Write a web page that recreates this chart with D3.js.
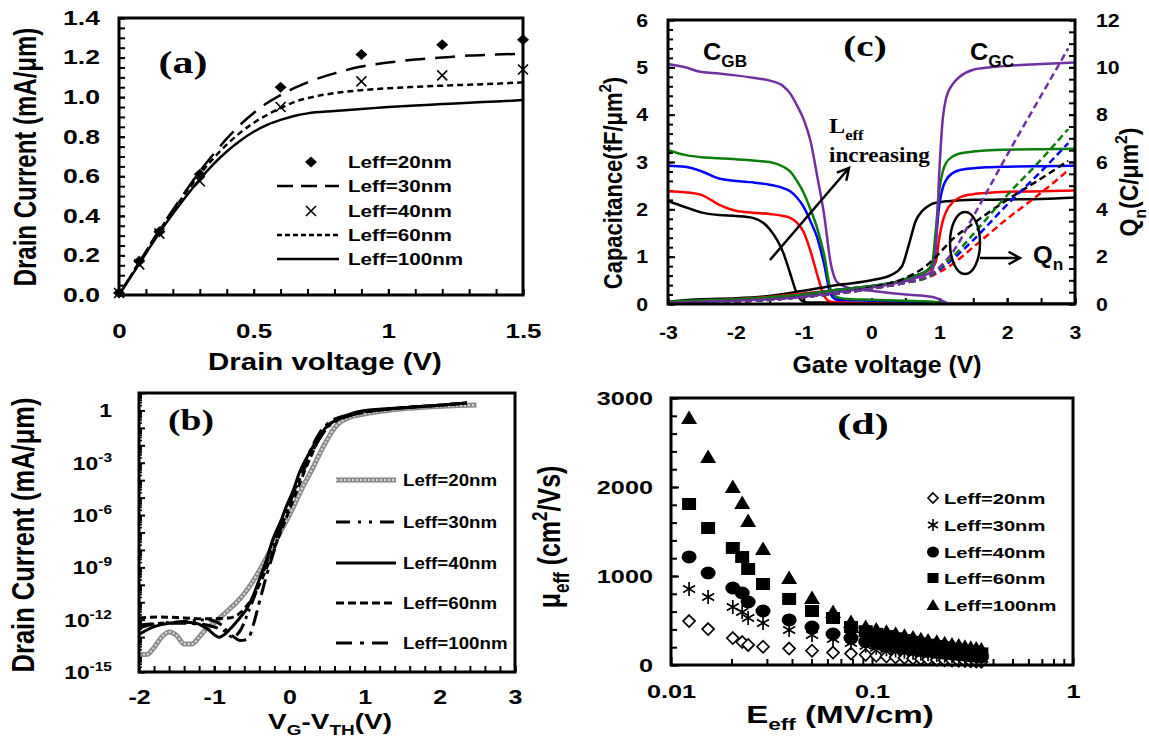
<!DOCTYPE html>
<html><head><meta charset="utf-8">
<script src="https://cdn.jsdelivr.net/npm/d3@7"></script>
<style>body{margin:0;background:#fff}svg{display:block}</style>
</head><body>
<script>
// ================= DATA =================
// Panel (a): output characteristics
const aVdPts = [0, 0.075, 0.15, 0.3, 0.6, 0.9, 1.2, 1.5];
const aId20 = [0.01, 0.17, 0.32, 0.61, 1.05, 1.215, 1.265, 1.29];
const aId40 = [0.01, 0.155, 0.31, 0.575, 0.95, 1.08, 1.11, 1.14];
const aVdLine = [0, 0.05, 0.1, 0.15, 0.2, 0.25, 0.3, 0.35, 0.4, 0.45, 0.5, 0.55, 0.6, 0.65, 0.7, 0.8, 0.9, 1.0, 1.1, 1.2, 1.3, 1.4, 1.5];
const aId30 = [0, 0.11, 0.22, 0.33, 0.43, 0.53, 0.625, 0.71, 0.79, 0.86, 0.92, 0.97, 1.01, 1.045, 1.075, 1.12, 1.155, 1.175, 1.19, 1.2, 1.21, 1.215, 1.22];
const aId60 = [0, 0.11, 0.22, 0.325, 0.425, 0.52, 0.61, 0.69, 0.76, 0.82, 0.87, 0.91, 0.945, 0.975, 0.995, 1.02, 1.035, 1.045, 1.052, 1.058, 1.063, 1.068, 1.075];
const aId100 = [0, 0.105, 0.21, 0.315, 0.41, 0.5, 0.585, 0.66, 0.725, 0.78, 0.825, 0.86, 0.885, 0.905, 0.918, 0.93, 0.94, 0.95, 0.958, 0.965, 0.972, 0.978, 0.985];
const aXTicks = [0, 0.5, 1, 1.5];
const aYTicks = [0, 0.2, 0.4, 0.6, 0.8, 1.0, 1.2, 1.4];
const legendLabels = ["Leff=20nm", "Leff=30nm", "Leff=40nm", "Leff=60nm", "Leff=100nm"];

// Panel (b): transfer characteristics (log10 of drain current, mA/um)
const bV20 = [-2,-1.9,-1.8,-1.7,-1.6,-1.5,-1.4,-1.3,-1.2,-1.1,-1.0,-0.9,-0.8,-0.7,-0.6,-0.5,-0.4,-0.3,-0.2,-0.1,0,0.1,0.2,0.3,0.4,0.5,0.6,0.7,0.8,1.0,1.3,1.7,2.1,2.49];
const bLog20 = [-14.0,-14.0,-13.6,-13.0,-12.7,-12.9,-13.4,-13.4,-13.0,-12.5,-12.2,-11.8,-11.4,-11.0,-10.5,-9.9,-9.2,-8.4,-7.6,-6.8,-6.0,-5.1,-4.2,-3.4,-2.5,-1.7,-1.0,-0.6,-0.4,-0.2,0.0,0.15,0.25,0.31];
const bV30 = [-2,-1.7,-1.4,-1.1,-0.9,-0.76,-0.65,-0.55,-0.45,-0.35,-0.25,-0.15,-0.05,0.05,0.15,0.25,0.35,0.45,0.55,0.65,0.8,1.0,1.5,2.0,2.36];
const bLog30 = [-12.3,-12.2,-12.1,-12.0,-12.3,-13.0,-12.6,-11.6,-10.5,-9.3,-8.1,-6.9,-5.8,-4.8,-3.8,-2.9,-2.0,-1.3,-0.8,-0.55,-0.3,-0.1,0.15,0.3,0.43];
const bV40 = [-2,-1.8,-1.6,-1.4,-1.24,-1.1,-0.93,-0.85,-0.76,-0.66,-0.57,-0.48,-0.4,-0.3,-0.22,-0.1,-0.04,0.05,0.13,0.22,0.31,0.4,0.49,0.56,0.63,0.75,0.84,1.0,1.5,2.0,2.36];
const bLog40 = [-12.85,-12.4,-12.2,-12.15,-12.2,-12.5,-13.0,-12.8,-12.4,-11.9,-11.4,-10.6,-9.7,-8.5,-7.4,-6.2,-5.5,-4.6,-3.6,-2.8,-2.1,-1.5,-0.95,-0.7,-0.55,-0.3,-0.15,0.0,0.15,0.3,0.43];
const bV60 = [-2,-1.7,-1.4,-1.1,-0.8,-0.65,-0.5,-0.4,-0.3,-0.2,-0.1,0,0.1,0.2,0.3,0.4,0.5,0.6,0.8,1.0,1.5,2.0,2.36];
const bLog60 = [-11.9,-11.85,-11.9,-11.95,-11.9,-11.6,-10.8,-10.0,-9.0,-7.9,-6.8,-5.7,-4.6,-3.5,-2.5,-1.6,-0.95,-0.6,-0.3,-0.1,0.15,0.3,0.43];
const bV100 = [-2,-1.7,-1.4,-1.1,-0.8,-0.65,-0.55,-0.48,-0.4,-0.3,-0.2,-0.1,0,0.1,0.2,0.3,0.4,0.5,0.6,0.8,1.0,1.5,2.0,2.36];
const bLog100 = [-12.5,-12.2,-12.2,-12.3,-12.8,-13.2,-13.1,-12.3,-11.0,-9.4,-8.0,-6.6,-5.4,-4.2,-3.1,-2.1,-1.3,-0.8,-0.5,-0.25,-0.08,0.15,0.3,0.43];
const bXTicks = [-2, -1, 0, 1, 2, 3];
const bYExp = [0, -3, -6, -9, -12, -15];

// Panel (c): capacitances (fF/um^2) and Qn (right axis)
const cColors = ["#000000", "#ff0000", "#0000ff", "#0b7d0b", "#7030a0"];
const cgbV = [-3,-2.75,-2.5,-2.25,-2,-1.75,-1.5,-1.3,-1.2,-1.1,-1.0,-0.9,-0.8,-0.7,-0.6,-0.5,-0.3,0,0.5,0.9,1.0,1.1,1.2,1.5,2,3];
const cgbBlack = [2.18,2.05,1.93,1.88,1.86,1.82,1.58,1.08,0.65,0.22,0.05,0.03,0.03,0.03,0.03,0.03,0.02,0.02,0.02,0.01,0.01,0,0,0,0,0];
const cgbRed = [2.38,2.36,2.3,2.1,1.97,1.93,1.9,1.86,1.82,1.72,1.52,1.12,0.62,0.18,0.05,0.04,0.03,0.02,0.02,0.01,0.005,0,0,0,0,0];
const cgbBlue = [2.92,2.9,2.8,2.65,2.6,2.57,2.52,2.45,2.38,2.25,2.05,1.75,1.4,0.85,0.2,0.09,0.08,0.07,0.05,0.03,0.02,0.005,0,0,0,0];
const cgbGreen = [3.25,3.15,3.1,3.08,3.06,3.03,3.0,2.9,2.8,2.6,2.35,2.0,1.6,1.05,0.3,0.14,0.1,0.09,0.07,0.05,0.03,0.01,0,0,0,0];
const cgbPurple = [5.07,5.0,4.9,4.87,4.83,4.78,4.72,4.6,4.45,4.2,3.9,3.45,2.7,1.9,0.85,0.45,0.33,0.28,0.2,0.15,0.1,0.03,0,0,0,0];
const cgcV = [-3,-2.5,-2,-1.5,-1,-0.5,0,0.3,0.45,0.55,0.65,0.75,0.85,0.9,0.95,1.0,1.05,1.1,1.2,1.3,1.5,1.75,2,2.5,3];
const cgcBlack = [0.05,0.1,0.12,0.17,0.28,0.4,0.5,0.62,0.8,1.25,1.75,1.97,2.08,2.12,2.14,2.15,2.16,2.17,2.18,2.19,2.2,2.2,2.21,2.22,2.25];
const cgcRed = [0.02,0.06,0.1,0.15,0.22,0.3,0.38,0.45,0.5,0.55,0.6,0.65,0.72,0.78,0.9,1.4,1.75,1.95,2.15,2.25,2.32,2.35,2.37,2.38,2.4];
const cgcBlue = [0.02,0.05,0.08,0.13,0.2,0.3,0.38,0.45,0.5,0.55,0.6,0.65,0.75,0.85,1.4,2.1,2.45,2.62,2.77,2.83,2.87,2.89,2.9,2.91,2.92];
const cgcGreen = [0.05,0.08,0.1,0.14,0.2,0.3,0.38,0.45,0.5,0.55,0.6,0.65,0.75,0.9,1.6,2.4,2.8,2.98,3.12,3.18,3.22,3.25,3.26,3.27,3.28];
const cgcPurple = [0.02,0.05,0.07,0.1,0.15,0.25,0.35,0.42,0.47,0.5,0.55,0.6,0.65,0.72,1.2,2.8,3.9,4.35,4.65,4.8,4.95,5.0,5.03,5.07,5.1];
const qnV = [-3,-2.5,-2,-1.5,-1,-0.5,0,0.5,0.8,0.9,1.0,1.2,1.5,2.0,2.5,2.9];
const qnBlack = [0.02,0.05,0.1,0.18,0.3,0.45,0.7,1.1,1.6,1.85,2.15,2.75,3.4,4.4,5.3,6.05];
const qnRed = [0.02,0.05,0.1,0.18,0.3,0.45,0.65,0.9,1.1,1.2,1.35,1.7,2.4,3.6,4.7,5.65];
const qnBlue = [0.02,0.05,0.1,0.18,0.3,0.45,0.65,0.9,1.1,1.25,1.45,1.9,2.7,4.2,5.6,6.8];
const qnGreen = [0.02,0.05,0.1,0.18,0.3,0.45,0.65,0.9,1.1,1.25,1.5,2.0,2.95,4.6,6.1,7.4];
const qnPurple = [0.02,0.05,0.1,0.18,0.3,0.45,0.65,0.9,1.15,1.3,1.55,2.2,3.7,6.3,8.8,10.8];
const cXTicks = [-3,-2,-1,0,1,2,3];
const cYTicks = [0,1,2,3,4,5,6];
const cY2Ticks = [0,2,4,6,8,10,12];

// Panel (d): effective mobility vs effective field
const dE = [0.0123,0.0153,0.0203,0.0226,0.0242,0.0287,0.0387,0.0503,0.064,0.0786,0.093,0.105,0.118,0.131,0.145,0.16,0.175,0.19,0.21,0.23,0.25,0.27,0.29,0.31,0.33,0.35];
const dMu20 = [494,404,303,258,225,205,185,160,140,128,115,104,95,87,80,74,68,63,58,54,50,47,44,41,38,36];
const dMu30 = [854,764,652,596,528,472,393,337,292,247,215,195,178,163,150,139,129,120,112,104,97,91,85,79,74,69];
const dMu40 = [1214,1034,865,809,708,607,506,427,348,303,262,240,220,203,188,175,163,152,142,133,125,117,110,103,97,91];
const dMu60 = [1809,1539,1315,1214,1079,910,742,607,528,427,380,350,325,300,280,260,243,228,212,198,185,172,160,150,140,130];
const dMu100 = [2775,2337,2000,1820,1618,1303,977,753,596,483,427,400,375,350,330,310,290,275,260,245,230,218,205,195,185,175];
const dXTicks = [0.01, 0.1, 1];
const dYTicks = [0, 1000, 2000, 3000];

// ================= DRAWING =================
const SANS = "'Liberation Sans', Arial, Helvetica, sans-serif";
const SERIF = "'Liberation Serif', 'Times New Roman', serif";
const svg = d3.select("body").append("svg").attr("width", 1149).attr("height", 738);
svg.append("rect").attr("width", 1149).attr("height", 738).attr("fill", "#fff");

function txt(x, y, parts, o) {
  const size = o.size;
  const t = svg.append("text")
    .attr("font-family", o.serif ? SERIF : SANS).attr("font-weight", "bold")
    .attr("font-size", size).attr("text-anchor", o.anchor || "start").attr("fill", "#000");
  const sx = o.sx || 1;
  t.attr("transform", o.rot ? `translate(${x},${y}) rotate(-90) scale(1,${sx})` : `translate(${x},${y}) scale(${sx},1)`);
  let shift = 0;
  const list = typeof parts === "string" ? [[parts]] : parts;
  for (const [s, kind] of list) {
    const target = kind === "sub" ? size * 0.3 : kind === "sup" ? -size * 0.42 : 0;
    t.append("tspan").text(s).attr("dy", target - shift).attr("font-size", kind ? size * 0.68 : size);
    shift = target;
  }
  return t;
}

function frame(x0, x1, y0, y1) {
  svg.append("rect").attr("x", x0).attr("y", y0).attr("width", x1 - x0).attr("height", y1 - y0)
    .attr("fill", "none").attr("stroke", "#000").attr("stroke-width", 3);
}

function drawAxis(orient, scale, pos, values, o) {
  const mk = orient === "bottom" ? d3.axisBottom : orient === "left" ? d3.axisLeft : d3.axisRight;
  const gen = mk(scale).tickValues(values).tickSizeInner(-(o.len || 6)).tickSizeOuter(0).tickPadding(o.pad || 8);
  gen.tickFormat(o.fmt || (() => ""));
  const g = svg.append("g").attr("transform", orient === "bottom" ? `translate(0,${pos})` : `translate(${pos},0)`).call(gen);
  g.select(".domain").remove();
  g.selectAll("line").attr("stroke", "#000").attr("stroke-width", o.tw || 2);
  g.selectAll("text").attr("font-family", SANS).attr("font-weight", "bold").attr("font-size", o.font || 19).attr("fill", "#000")
    .each(function () {
      const t = d3.select(this); const x = +t.attr("x") || 0;
      t.attr("x", 0).attr("transform", `translate(${x},0) scale(${o.sx || 1},1)`);
    });
  return g;
}

function range(a, b, s) { const r = []; for (let v = a; v <= b + 1e-9; v += s) r.push(+v.toFixed(6)); return r; }

// ---------- Panel (a) ----------
const aX = d3.scaleLinear([0, 1.5], [119, 523]);
const aY = d3.scaleLinear([0, 1.4], [295, 18]);
drawAxis("bottom", aX, 295, range(0, 1.5, 0.1), { len: 6 });
drawAxis("left", aY, 119, range(0, 1.4, 0.05), { len: 6 });
drawAxis("bottom", aX, 295, aXTicks, { len: 6, pad: 29, fmt: d => String(d), font: 20, sx: 1.3 });
drawAxis("left", aY, 119, aYTicks, { len: 6, pad: 19, fmt: d3.format(".1f"), font: 20, sx: 1.33 });

const aLine = ys => d3.line().x((d, i) => aX(aVdLine[i])).y(d => aY(d)).curve(d3.curveMonotoneX)(ys);
svg.append("path").attr("d", aLine(aId100)).attr("fill", "none").attr("stroke", "#000").attr("stroke-width", 2.5);
svg.append("path").attr("d", aLine(aId60)).attr("fill", "none").attr("stroke", "#000").attr("stroke-width", 2.5).attr("stroke-dasharray", "6,4");
svg.append("path").attr("d", aLine(aId30)).attr("fill", "none").attr("stroke", "#000").attr("stroke-width", 2.5).attr("stroke-dasharray", "20,10");
const DIAM = "M0,-5.5L6,0L0,5.5L-6,0Z";
const XMARK = "M-5,-5L5,5M-5,5L5,-5";
svg.selectAll(".a40").data(aId40).enter().append("path").attr("d", XMARK)
  .attr("transform", (d, i) => `translate(${aX(aVdPts[i])},${aY(d)})`).attr("stroke", "#000").attr("stroke-width", 1.6).attr("fill", "none");
svg.selectAll(".a20").data(aId20).enter().append("path").attr("d", DIAM)
  .attr("transform", (d, i) => `translate(${aX(aVdPts[i])},${aY(d)})`).attr("fill", "#000");
frame(119, 523, 18, 295);

// legend (a)
const aLegY = [162, 186, 211, 235, 259];
svg.append("path").attr("d", DIAM).attr("transform", `translate(311,${aLegY[0]})`).attr("fill", "#000");
svg.append("line").attr("x1", 277).attr("x2", 339).attr("y1", aLegY[1]).attr("y2", aLegY[1]).attr("stroke", "#000").attr("stroke-width", 2.5).attr("stroke-dasharray", "16,8");
svg.append("path").attr("d", XMARK).attr("transform", `translate(311,${aLegY[2]})`).attr("stroke", "#000").attr("stroke-width", 1.6);
svg.append("line").attr("x1", 277).attr("x2", 339).attr("y1", aLegY[3]).attr("y2", aLegY[3]).attr("stroke", "#000").attr("stroke-width", 2.5).attr("stroke-dasharray", "5,3");
svg.append("line").attr("x1", 277).attr("x2", 339).attr("y1", aLegY[4]).attr("y2", aLegY[4]).attr("stroke", "#000").attr("stroke-width", 2.5);
legendLabels.forEach((l, i) => txt(348, aLegY[i] + 6, l, { size: 16, sx: 1.29 }));

txt(183, 73, "(a)", { size: 31, serif: true, anchor: "middle", sx: 1.35 });
txt(325, 370, "Drain voltage (V)", { size: 23, anchor: "middle", sx: 1.28 });
txt(36, 157, "Drain Current (mA/\u03bcm)", { size: 24, anchor: "middle", rot: true, sx: 1.27 });

// ---------- Panel (b) ----------
const bX = d3.scaleLinear([-2, 3], [139, 515]);
const bY = d3.scaleLog([1e-15, 10], [672, 393]);
drawAxis("bottom", bX, 672, range(-2, 3, 0.2), { len: 6 });
drawAxis("bottom", bX, 672, bXTicks, { len: 6, pad: 18, fmt: d => String(d), font: 20, sx: 1.25 });
const bMinor = [];
for (let e = -15; e < 1; e++) for (let m = 2; m <= 9; m++) bMinor.push(m * Math.pow(10, e));
drawAxis("left", bY, 139, bMinor, { len: 3, tw: 1.5 });
drawAxis("left", bY, 139, d3.range(-15, 2).map(e => Math.pow(10, e)), { len: 6 });
bYExp.forEach(e => {
  const y = bY(Math.pow(10, e)) + 7;
  if (e === 0) txt(112, y, "1", { size: 19, anchor: "end", sx: 1.2 });
  else txt(112, y, [["10"], [String(e), "sup"]], { size: 19, anchor: "end", sx: 1.2 });
});
const bLine = (vs, ls) => d3.line().x((d, i) => bX(vs[i])).y(d => bY(Math.pow(10, d))).curve(d3.curveMonotoneX)(ls);
svg.append("path").attr("d", bLine(bV20, bLog20)).attr("fill", "none").attr("stroke", "#8a8a8a").attr("stroke-width", 5);
svg.append("path").attr("d", bLine(bV20, bLog20)).attr("fill", "none").attr("stroke", "#dcdcdc").attr("stroke-width", 2).attr("stroke-dasharray", "2,2");
const bStyles = [
  [bV30, bLog30, "14,5,3,5,3,5"],
  [bV40, bLog40, null],
  [bV60, bLog60, "7,4"],
  [bV100, bLog100, "16,6,4,6"]
];
bStyles.forEach(([v, l, dash]) => {
  const p = svg.append("path").attr("d", bLine(v, l)).attr("fill", "none").attr("stroke", "#000").attr("stroke-width", 3);
  if (dash) p.attr("stroke-dasharray", dash);
});
frame(139, 515, 393, 672);
// legend (b)
const bLegY = [480, 522, 563, 603, 643];
svg.append("line").attr("x1", 336).attr("x2", 396).attr("y1", bLegY[0]).attr("y2", bLegY[0]).attr("stroke", "#8a8a8a").attr("stroke-width", 5);
svg.append("line").attr("x1", 336).attr("x2", 396).attr("y1", bLegY[0]).attr("y2", bLegY[0]).attr("stroke", "#dcdcdc").attr("stroke-width", 2).attr("stroke-dasharray", "2,2");
["14,8,3,8,3,8", null, "8,4", "16,8,4,8"].forEach((dash, i) => {
  const l = svg.append("line").attr("x1", 336).attr("x2", 396).attr("y1", bLegY[i + 1]).attr("y2", bLegY[i + 1]).attr("stroke", "#000").attr("stroke-width", 3);
  if (dash) l.attr("stroke-dasharray", dash);
});
legendLabels.forEach((l, i) => txt(403, bLegY[i] + 6, l, { size: 16, sx: 1.17 }));
txt(191, 430, "(b)", { size: 30, serif: true, anchor: "middle", sx: 1.25 });
txt(330, 728.5, [["V"], ["G", "sub"], ["-V"], ["TH", "sub"], ["(V)"]], { size: 21.5, anchor: "middle", sx: 1.3 });
txt(34, 535, "Drain Current (mA/\u03bcm)", { size: 25.5, anchor: "middle", rot: true, sx: 1.25 });

// ---------- Panel (c) ----------
const cX = d3.scaleLinear([-3, 3], [668, 1075]);
const cY = d3.scaleLinear([0, 6], [304, 20]);
const cY2 = d3.scaleLinear([0, 12], [304, 20]);
drawAxis("bottom", cX, 304, range(-3, 3, 0.5), { len: 6 });
drawAxis("bottom", cX, 304, cXTicks, { len: 6, pad: 22, fmt: d => String(d), font: 19, sx: 1.12 });
drawAxis("left", cY, 668, range(0, 6, 0.2), { len: 5 });
drawAxis("left", cY, 668, cYTicks, { len: 7, pad: 20, fmt: d => String(d), font: 19, sx: 1.12 });
drawAxis("right", cY2, 1075, range(0, 12, 0.5), { len: 6 });
drawAxis("right", cY2, 1075, cY2Ticks, { len: 6, pad: 21, fmt: d => String(d), font: 19, sx: 1.12 });

svg.append("clipPath").attr("id", "cclip").append("rect").attr("x", 668).attr("y", 20).attr("width", 407).attr("height", 284);
const cg = svg.append("g").attr("clip-path", "url(#cclip)");
const cLine = (vs, ys, sc) => d3.line().x((d, i) => cX(vs[i])).y(d => sc(d)).curve(d3.curveMonotoneX)(ys);
const cgbAll = [cgbBlack, cgbRed, cgbBlue, cgbGreen, cgbPurple];
const cgcAll = [cgcBlack, cgcRed, cgcBlue, cgcGreen, cgcPurple];
const qnAll = [qnBlack, qnRed, qnBlue, qnGreen, qnPurple];
cgbAll.forEach((ys, i) => cg.append("path").attr("d", cLine(cgbV, ys, cY)).attr("fill", "none").attr("stroke", cColors[i]).attr("stroke-width", 2.5));
cgcAll.forEach((ys, i) => cg.append("path").attr("d", cLine(cgcV, ys, cY)).attr("fill", "none").attr("stroke", cColors[i]).attr("stroke-width", 2.5));
qnAll.forEach((ys, i) => cg.append("path").attr("d", cLine(qnV, ys, cY2)).attr("fill", "none").attr("stroke", cColors[i]).attr("stroke-width", 2.5).attr("stroke-dasharray", "7,4"));
frame(668, 1075, 20, 304);

function arrow(x1, y1, x2, y2) {
  svg.append("line").attr("x1", x1).attr("y1", y1).attr("x2", x2).attr("y2", y2).attr("stroke", "#000").attr("stroke-width", 2.5);
  const a = Math.atan2(y2 - y1, x2 - x1), L = 13;
  const p = [[x2 - L * Math.cos(a - 0.5), y2 - L * Math.sin(a - 0.5)], [x2, y2], [x2 - L * Math.cos(a + 0.5), y2 - L * Math.sin(a + 0.5)]];
  svg.append("path").attr("d", d3.line()(p)).attr("fill", "none").attr("stroke", "#000").attr("stroke-width", 2.5);
}
arrow(770, 260, 849, 168);
svg.append("ellipse").attr("cx", 965).attr("cy", 243).attr("rx", 15).attr("ry", 31).attr("fill", "none").attr("stroke", "#000").attr("stroke-width", 2.5);
arrow(980, 258, 1020, 258);
txt(703, 60, [["C"], ["GB", "sub"]], { size: 23, sx: 1.1 });
txt(970, 60, [["C"], ["GC", "sub"]], { size: 23, sx: 1.1 });
txt(865, 56, "(c)", { size: 30, serif: true, anchor: "middle", sx: 1.3 });
txt(829, 133, [["L"], ["eff", "sub"]], { size: 22, serif: true, sx: 1.1 });
txt(829, 162, "increasing", { size: 21, serif: true, sx: 1.1 });
txt(1033, 263, [["Q"], ["n", "sub"]], { size: 23, sx: 1.1 });
txt(887, 373, "Gate voltage (V)", { size: 23, anchor: "middle", sx: 1.08 });
txt(622, 183, [["Capacitance(fF/\u03bcm"], ["2", "sup"], [")"]], { size: 22, anchor: "middle", rot: true, sx: 1.15 });
txt(1138, 182, [["Q"], ["n", "sub"], ["(C/\u03bcm"], ["2", "sup"], [")"]], { size: 23, anchor: "middle", rot: true, sx: 1.1 });

// ---------- Panel (d) ----------
const dX = d3.scaleLog([0.01, 1], [671, 1073]);
const dY = d3.scaleLinear([0, 3000], [665, 398]);
const dMinor = [];
[0.01, 0.1].forEach(b => { for (let m = 2; m <= 9; m++) dMinor.push(+(m * b).toFixed(4)); });
drawAxis("bottom", dX, 665, dMinor, { len: 6 });
drawAxis("bottom", dX, 665, dXTicks, { len: 8, pad: 20, fmt: d => String(d), font: 19, sx: 1.33 });
drawAxis("left", dY, 671, range(0, 3000, 200), { len: 6 });
drawAxis("left", dY, 671, dYTicks, { len: 8, pad: 18, fmt: d => String(d), font: 19, sx: 1.33 });

const SQ = "M-7,-6L7,-6L7,6L-7,6Z";
const TRI = "M0,-7.5L8,6L-8,6Z";
const STAR = "M0,-7L0,7M-6,-3.5L6,3.5M-6,3.5L6,-3.5";
const DOPEN = "M0,-6L6,0L0,6L-6,0Z";
const dg = svg.append("g");
function dMarks(vals, shape, filled) {
  dg.selectAll(null).data(vals).enter().append(shape === "circle" ? "ellipse" : "path")
    .each(function (d, i) {
      const s = d3.select(this);
      const x = dX(dE[i]), y = dY(d);
      if (shape === "circle") s.attr("cx", x).attr("cy", y).attr("rx", 7.5).attr("ry", 6.5).attr("fill", "#000");
      else {
        s.attr("d", shape).attr("transform", `translate(${x},${y})`);
        if (filled) s.attr("fill", "#000"); else s.attr("fill", "#fff").attr("stroke", "#000").attr("stroke-width", 1.7);
      }
    });
}
dMarks(dMu20, DOPEN, false);
dMarks(dMu30, STAR, false);
dMarks(dMu40, "circle", true);
dMarks(dMu60, SQ, true);
dMarks(dMu100, TRI, true);
frame(671, 1073, 398, 665);
// legend (d)
const dLegY = [498, 525, 552, 578, 605];
svg.append("path").attr("d", "M0,-5L5,0L0,5L-5,0Z").attr("transform", `translate(933,${dLegY[0]})`).attr("fill", "#fff").attr("stroke", "#000").attr("stroke-width", 1.6);
svg.append("path").attr("d", "M0,-6L0,6M-5,-3L5,3M-5,3L5,-3").attr("transform", `translate(933,${dLegY[1]})`).attr("stroke", "#000").attr("stroke-width", 1.6);
svg.append("ellipse").attr("cx", 933).attr("cy", dLegY[2]).attr("rx", 6).attr("ry", 5.5).attr("fill", "#000");
svg.append("path").attr("d", "M-5.5,-5L5.5,-5L5.5,5L-5.5,5Z").attr("transform", `translate(933,${dLegY[3]})`).attr("fill", "#000");
svg.append("path").attr("d", "M0,-6L6.5,5L-6.5,5Z").attr("transform", `translate(933,${dLegY[4]})`).attr("fill", "#000");
legendLabels.forEach((l, i) => txt(944, dLegY[i] + 6, l, { size: 15.5, sx: 1.3 }));
txt(863, 434, "(d)", { size: 30, serif: true, anchor: "middle", sx: 1.4 });
txt(840, 723, [["E"], ["eff", "sub"], [" (MV/cm)"]], { size: 24, anchor: "middle", sx: 1.38 });
txt(560, 537, [["\u03bc"], ["eff", "sub"], [" (cm"], ["2", "sup"], ["/Vs)"]], { size: 25, anchor: "middle", rot: true, sx: 1.25 });
</script>
</body></html>
